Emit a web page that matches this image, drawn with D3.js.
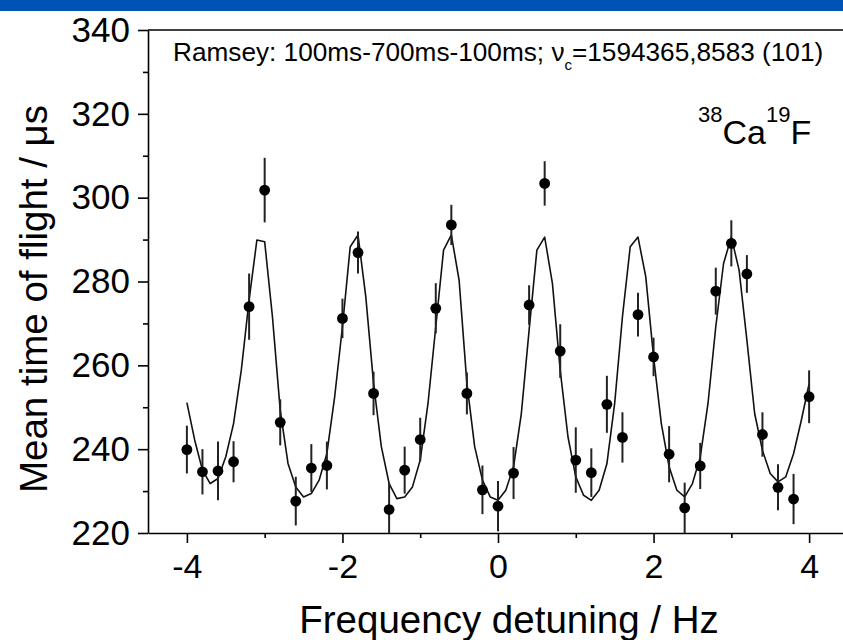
<!DOCTYPE html>
<html>
<head>
<meta charset="utf-8">
<script src="https://cdn.jsdelivr.net/npm/d3@7"></script>
<style>
  html, body { margin: 0; padding: 0; background: #fff; }
  svg { display: block; }
  text { font-family: "Liberation Sans", Arial, Helvetica, sans-serif; fill: #000; }
</style>
</head>
<body>
<svg id="chart" width="843" height="640"></svg>
<script>
// ---- data ----
const freq = [-4.0,-3.8,-3.6,-3.4,-3.2,-3.0,-2.8,-2.6,-2.4,-2.2,-2.0,-1.8,-1.6,-1.4,-1.2,-1.0,-0.8,-0.6,-0.4,-0.2,
              0.0,0.2,0.4,0.6,0.8,1.0,1.2,1.4,1.6,1.8,2.0,2.2,2.4,2.6,2.8,3.0,3.2,3.4,3.6,3.8,4.0];
const tof = [239.9,234.6,234.8,237.0,274.0,301.8,246.4,227.6,235.5,236.1,271.2,286.9,253.3,225.6,235.0,242.3,273.6,293.5,253.3,230.3,
             226.4,234.3,274.4,303.4,263.4,237.4,234.4,250.7,242.8,272.1,262.0,238.8,226.0,236.0,277.7,289.1,281.8,243.5,230.9,228.1,252.5];
const tofErr = [5.7,5.4,7.0,4.9,7.9,7.7,5.5,5.8,5.7,5.7,4.7,5.0,5.2,6.4,5.6,5.2,6.0,4.8,5.0,5.8,
                6.0,6.2,4.7,5.3,6.4,7.8,5.8,6.8,6.0,5.2,4.6,6.7,6.0,5.5,5.6,5.5,4.5,5.3,5.5,6.0,6.3];
const fitFreq = [-4.0,-3.9,-3.8,-3.7,-3.6,-3.5,-3.4,-3.3,-3.2,-3.1,-3.0,-2.9,-2.8,-2.7,-2.6,-2.5,-2.4,-2.3,-2.2,-2.1,
                 -2.0,-1.9,-1.8,-1.7,-1.6,-1.5,-1.4,-1.3,-1.2,-1.1,-1.0,-0.9,-0.8,-0.7,-0.6,-0.5,-0.4,-0.3,-0.2,-0.1,
                 0.0,0.1,0.2,0.3,0.4,0.5,0.6,0.7,0.8,0.9,1.0,1.1,1.2,1.3,1.4,1.5,1.6,1.7,1.8,1.9,
                 2.0,2.1,2.2,2.3,2.4,2.5,2.6,2.7,2.8,2.9,3.0,3.1,3.2,3.3,3.4,3.5,3.6,3.7,3.8,3.9,4.0];
const fitTof = [251.1,242.2,235.0,231.8,233.0,238.2,246.1,258.9,275.6,289.9,289.5,271.6,249.3,236.6,231.0,228.6,229.4,232.6,239.0,252.5,
                269.2,288.3,291.1,276.4,255.7,240.6,231.8,228.2,228.6,231.0,237.4,250.9,269.2,287.5,291.1,280.3,255.7,240.6,232.6,228.6,
                227.8,230.2,235.8,248.5,268.4,287.5,290.6,279.5,258.8,242.9,233.4,229.0,227.8,230.2,236.5,250.9,271.6,288.3,290.6,281.1,
                262.0,246.1,235.8,230.2,228.6,231.8,238.1,250.9,269.2,284.3,290.6,282.7,266.0,248.5,239.7,234.2,232.2,233.4,238.9,246.9,255.6];
const xTicks = [-4, -2, 0, 2, 4];
const xMinorTicks = [-3, -1, 1, 3];
const yTicks = [220, 240, 260, 280, 300, 320, 340];
const yMinorTicks = [230, 250, 270, 290, 310, 330];
const xLabel = "Frequency detuning / Hz";
const yLabel = "Mean time of flight / \u03bcs";
const noteMain = "Ramsey: 100ms-700ms-100ms; \u03bd";
const noteSub = "c";
const noteRest = "=1594365,8583 (101)";

// ---- layout ----
const svg = d3.select("#chart");
const mLeft = 148, mRight = 848, mTop = 30, mBottom = 533;
const x = d3.scaleLinear().domain([-4.5, 4.5]).range([mLeft, mRight]);
const y = d3.scaleLinear().domain([220, 340]).range([mBottom, mTop]);

svg.append("rect").attr("x", 0).attr("y", 0).attr("width", 843).attr("height", 640).attr("fill", "#fff");
svg.append("rect").attr("x", 0).attr("y", 0).attr("width", 843).attr("height", 11).attr("fill", "#0052b4");

// axes
const axisStyle = g => {
  g.selectAll(".domain").attr("stroke", "#000").attr("stroke-width", 1.6);
  g.selectAll(".tick line").attr("stroke", "#000").attr("stroke-width", 1.6);
};
const gx = svg.append("g").attr("transform", `translate(0,${mBottom})`)
  .call(d3.axisBottom(x).tickValues(xTicks).tickSize(10).tickSizeOuter(0).tickPadding(6)
        .tickFormat(d => d < 0 ? "-" + Math.abs(d) : d));
gx.call(axisStyle);
gx.selectAll("text").attr("font-size", 34).attr("dy", "0.71em").attr("y", 21);
svg.append("g").attr("transform", `translate(0,${mBottom})`)
  .call(d3.axisBottom(x).tickValues(xMinorTicks).tickSize(5).tickSizeOuter(0).tickFormat(""))
  .call(axisStyle).select(".domain").remove();

const gy = svg.append("g").attr("transform", `translate(${mLeft},0)`)
  .call(d3.axisLeft(y).tickValues(yTicks).tickSize(10).tickSizeOuter(0).tickPadding(8));
gy.call(axisStyle);
gy.selectAll("text").attr("font-size", 35).attr("x", -18);
svg.append("g").attr("transform", `translate(${mLeft},0)`)
  .call(d3.axisLeft(y).tickValues(yMinorTicks).tickSize(5).tickSizeOuter(0).tickFormat(""))
  .call(axisStyle).select(".domain").remove();

// top border
svg.append("line").attr("x1", mLeft).attr("x2", mRight).attr("y1", mTop).attr("y2", mTop)
  .attr("stroke", "#000").attr("stroke-width", 1.6);

// fit curve
const line = d3.line().x((d, i) => x(fitFreq[i])).y(d => y(d));
svg.append("path").datum(fitTof).attr("d", line)
  .attr("fill", "none").attr("stroke", "#111").attr("stroke-width", 1.6).attr("stroke-linejoin", "round");

// error bars
svg.append("g").selectAll("line").data(freq).join("line")
  .attr("x1", d => x(d)).attr("x2", d => x(d))
  .attr("y1", (d, i) => y(Math.max(220, tof[i] - tofErr[i])))
  .attr("y2", (d, i) => y(tof[i] + tofErr[i]))
  .attr("stroke", "#222").attr("stroke-width", 2);

// points
svg.append("g").selectAll("circle").data(freq).join("circle")
  .attr("cx", d => x(d)).attr("cy", (d, i) => y(tof[i])).attr("r", 5.4).attr("fill", "#000");

// annotation
const note = svg.append("text").attr("x", 173).attr("y", 61).attr("font-size", 26.2);
note.append("tspan").text(noteMain);
note.append("tspan").attr("font-size", 15).attr("dy", 9).text(noteSub);
note.append("tspan").attr("dy", -9).text(noteRest);

const mol = svg.append("text").attr("x", 698).attr("y", 144).attr("font-size", 34);
mol.append("tspan").attr("font-size", 22).attr("dy", -22).text("38");
mol.append("tspan").attr("dy", 22).text("Ca");
mol.append("tspan").attr("font-size", 22).attr("dy", -22).text("19");
mol.append("tspan").attr("dy", 22).text("F");

// axis titles
svg.append("text").attr("x", (mLeft + mRight) / 2 + 11).attr("y", 633).attr("text-anchor", "middle")
  .attr("font-size", 38.5).text(xLabel);
svg.append("text").attr("transform", `translate(47,${299}) rotate(-90)`).attr("text-anchor", "middle")
  .attr("font-size", 38.5).text(yLabel);
</script>
</body>
</html>
